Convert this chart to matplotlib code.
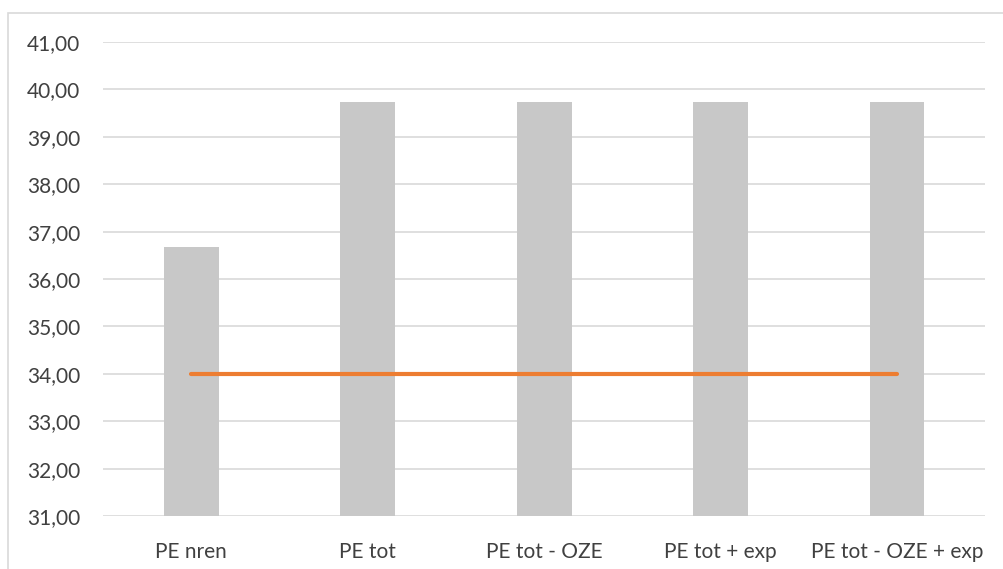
import matplotlib.pyplot as plt
from matplotlib.patches import Rectangle
from matplotlib.ticker import FuncFormatter

plt.rcParams['font.family'] = ['Lato', 'DejaVu Sans']

categories = ['PE nren', 'PE tot', 'PE tot - OZE', 'PE tot + exp', 'PE tot - OZE + exp']
values = [36.68, 39.73, 39.73, 39.73, 39.73]
limit = [34.0, 34.0, 34.0, 34.0, 34.0]

fig = plt.figure(figsize=(10.04, 5.69), dpi=100)
ax = fig.add_axes([0.1026, 0.0931, 0.9814 - 0.1026, 0.9262 - 0.0931])

# chart frame
fig.patches.append(Rectangle((8 / 1004, -0.05), 1.1, 1 - 13 / 569 + 0.05,
                             transform=fig.transFigure, fill=False,
                             edgecolor='#D9D9D9', linewidth=1.2))

x = range(len(categories))
ax.bar(x, values, width=0.31, color='#C8C8C8', zorder=2)
ax.plot(x, limit, color='#ED7D31', linewidth=3, solid_capstyle='round', zorder=3)

ax.set_xlim(-0.5, len(categories) - 0.5)
ax.set_ylim(31, 41)
ax.set_yticks(range(31, 42))
ax.yaxis.set_major_formatter(FuncFormatter(lambda v, p: f'{v:.2f}'.replace('.', ',')))
ax.set_xticks(list(x))
ax.set_xticklabels(categories)

ax.grid(axis='y', color='#D9D9D9', linewidth=1.2, zorder=0)
ax.set_axisbelow(True)
for s in ax.spines.values():
    s.set_visible(False)
ax.tick_params(length=0, labelsize=15, colors='#404040')
ax.tick_params(axis='y', pad=16.5)
ax.tick_params(axis='x', pad=19)

fig.savefig('out.png', dpi=100)
